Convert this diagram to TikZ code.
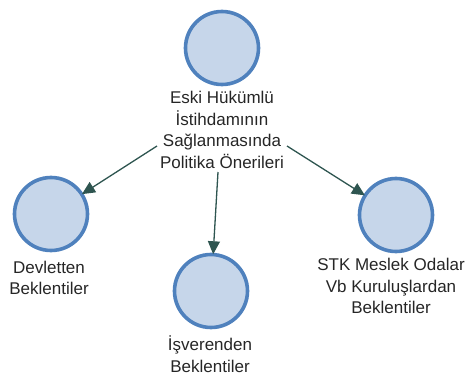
\documentclass[tikz,border=0pt]{standalone}
\usepackage{fontspec}
\setmainfont{Liberation Sans}
\usetikzlibrary{arrows.meta}
\definecolor{cfill}{HTML}{C6D6EA}
\definecolor{cline}{HTML}{4F81BD}
\definecolor{arr}{HTML}{2E5550}
\tikzset{
  bubble/.style={circle, draw=cline, line width=3.6pt, fill=cfill, minimum size=73pt, inner sep=0pt},
  lbl/.style={align=center, font=\fontsize{17}{21.5}\selectfont, text=black!85, inner sep=0pt},
  conn/.style={draw=arr, line width=1.3pt, -{Triangle[length=13pt,width=12pt]}, shorten >=-1.5pt}
}
\begin{document}
\begin{tikzpicture}[x=1pt,y=-1pt]
\useasboundingbox (0,0) rectangle (467,375);
\node[bubble] (top) at (222,48) {};
\node[lbl] (toplbl) at (222,130) {Eski Hükümlü\\İstihdamının\\Sağlanmasında\\Politika Önerileri};
\node[bubble] (left) at (51,214) {};
\node[lbl] (leftlbl) at (49,278) {Devletten\\Beklentiler};
\node[bubble] (mid) at (211,291) {};
\node[lbl] (midlbl) at (210,354) {İşverenden\\Beklentiler};
\node[bubble] (right) at (396,215) {};
\node[lbl] (rightlbl) at (391,286) {STK Meslek Odalar\\Vb Kuruluşlardan\\Beklentiler};
\coordinate (sL) at (157,146);
\coordinate (sM) at (218,172);
\coordinate (sR) at (287,146);
\draw[conn] (sL) -- (left);
\draw[conn] (sM) -- (mid);
\draw[conn] (sR) -- (right);
\end{tikzpicture}
\end{document}
